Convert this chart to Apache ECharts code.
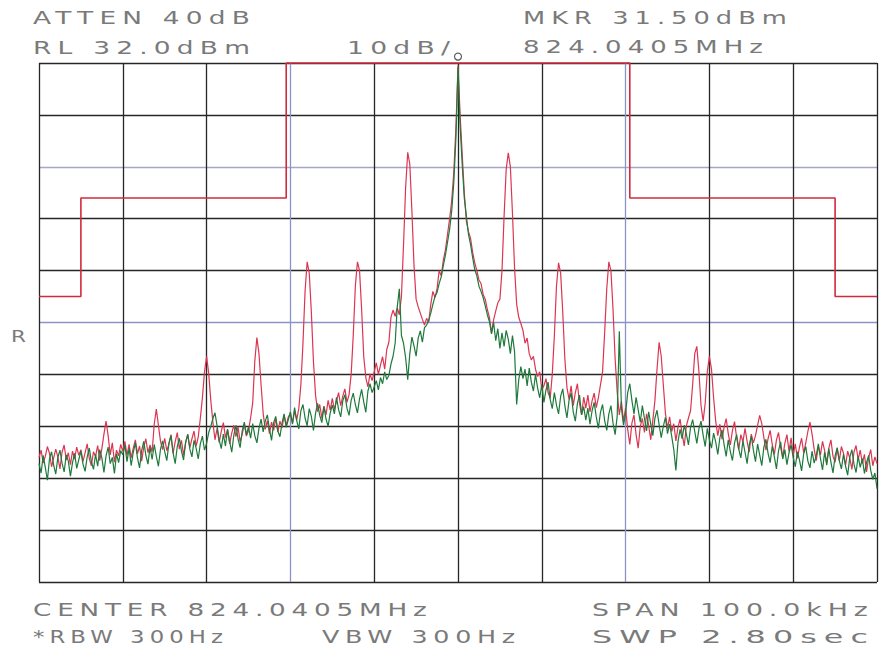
<!DOCTYPE html>
<html>
<head>
<meta charset="utf-8">
<script src="https://cdn.jsdelivr.net/npm/echarts@6/dist/echarts.min.js"></script>
<style>
  html, body { margin: 0; padding: 0; background: #ffffff; }
  #chart { width: 881px; height: 652px; }
  #chart text { letter-spacing: 4px; }
</style>
</head>
<body>
<div id="chart"></div>
<script>
// ---- Instrument settings ----
const REF_LEVEL_DBM = 32.0;     // RL 32.0dBm
const DB_PER_DIV = 10;          // 10dB/
const SPAN_KHZ = 100;           // SPAN 100.0kHz
const TRACE_POINTS = 401;

// ---- Texts ----
const headerTexts = ["ATTEN 40dB", "RL 32.0dBm", "10dB/", "MKR 31.50dBm", "824.0405MHz"];
const footerTexts = ["CENTER 824.0405MHz", "SPAN 100.0kHz", "*RBW 300Hz", "VBW 300Hz", "SWP 2.80sec"];
const sideText = "R";

// ---- Marker ----
const markerFreqKHz = 0;
const markerLevelDbm = 31.5;

// ---- Limit mask (dBm) ----
const maskFreqKHz = [-50, -45, -45, -20.5, -20.5, 20.5, 20.5, 45, 45, 50];
const maskLevelDbm = [-13, -13, 6, 6, 32, 32, 6, 6, -13, -13];

// ---- Trace A (red), dBm, 401 points across the span ----
const traceRed = [
  -44.0, -42.6, -45.1, -43.8, -41.9, -43.2, -45.8, -44.1, -42.4, -43.9, -46.2, -43.0, -41.6, -44.5, -43.1, -45.4, -42.8, -44.3, -42.0, -43.6,
  -42.5, -44.8, -43.1, -41.4, -44.2, -45.6, -42.9, -43.8, -41.7, -44.6, -42.3, -39.5, -37.0, -39.8, -43.5, -41.2, -44.9, -42.6, -43.7, -41.5,
  -42.8, -40.9, -43.6, -41.5, -44.1, -42.2, -40.6, -43.3, -41.8, -44.7, -42.0, -40.4, -43.1, -41.6, -42.9, -37.6, -34.7, -37.8, -40.9, -42.5,
  -40.3, -42.7, -41.5, -39.6, -43.2, -41.0, -39.2, -42.4, -40.7, -43.6, -41.2, -39.5, -42.1, -40.4, -38.9, -41.8, -40.1, -36.5, -32.5, -27.5,
  -24.5, -27.8, -33.0, -37.2, -40.6, -38.4, -41.1, -39.0, -37.3, -40.2, -38.6, -41.4, -39.3, -37.8, -40.0, -38.1, -41.0, -39.5, -37.6, -39.9,
  -38.8, -36.4, -33.5, -25.5, -20.9, -24.0, -30.0, -35.5, -38.6, -36.9, -39.4, -37.2, -38.8, -36.5, -39.1, -37.0, -38.3, -35.9, -37.8, -36.2,
  -35.6, -37.4, -35.0, -36.8, -34.6, -30.0, -22.0, -12.0, -6.3, -8.5, -16.0, -25.5, -32.0, -35.2, -33.8, -36.4, -34.1, -35.8, -33.0, -34.9,
  -32.6, -34.8, -33.1, -31.5, -34.0, -32.2, -30.8, -33.4, -31.9, -28.0, -20.5, -11.0, -6.3, -8.0, -15.5, -24.5, -28.6, -30.4, -27.9, -29.2,
  -27.5, -25.8, -28.0, -26.2, -24.6, -27.0, -23.2, -21.8, -17.0, -15.6, -16.8, -15.2, -16.5, -13.0, -3.0, 8.0, 14.8, 12.5, 3.5, -7.0,
  -13.5, -15.0, -16.2, -17.4, -18.5, -17.2, -18.0, -14.5, -12.0, -13.2, -11.5, -8.0, -9.0, -6.0, -4.0, -1.0, 2.0, 5.5, 11.0, 19.5,
  31.5,
  22.0, 14.5, 7.0, 1.5, -0.5, -1.8, -4.5, -6.5, -8.0, -9.8, -10.5, -12.6, -13.5, -15.5, -17.0, -20.0, -17.5, -15.8, -14.2, -13.5,
  -8.0, 2.5, 11.5, 14.7, 12.0, 3.0, -7.5, -14.5, -17.0, -18.2, -19.5, -22.0, -21.0, -24.0, -25.2, -24.5, -27.0, -28.4, -27.5, -31.0,
  -30.2, -28.8, -31.5, -32.6, -28.0, -20.5, -11.0, -6.5, -8.5, -16.0, -25.0, -30.5, -32.8, -30.2, -34.0, -31.5, -29.8, -33.6, -35.8, -32.4,
  -34.5, -32.0, -35.2, -33.1, -31.6, -34.4, -32.5, -30.0, -27.5, -20.0, -11.5, -6.3, -8.0, -15.5, -25.0, -31.5, -35.8, -33.2, -37.0, -34.5,
  -38.6, -41.5, -37.4, -35.8, -39.6, -42.2, -38.0, -36.5, -39.2, -35.6, -37.8, -40.6, -36.8, -33.0, -27.0, -21.8, -24.5, -30.0, -35.5, -38.4,
  -36.2, -39.0, -37.5, -40.8, -38.2, -36.6, -39.5, -41.8, -37.9, -36.4, -35.0, -30.0, -24.0, -22.6, -27.5, -34.0, -37.0, -33.5, -27.5, -24.5,
  -27.0, -32.5, -37.0, -39.8, -37.6, -40.5, -38.2, -36.5, -39.4, -41.6, -38.8, -37.1, -40.2, -42.5, -39.6, -41.0, -38.4, -40.9, -43.0, -39.5,
  -41.2, -39.8, -37.8, -35.9, -37.5, -40.2, -42.6, -40.4, -38.8, -41.5, -43.4, -40.6, -39.2, -42.1, -44.0, -41.3, -39.6, -42.8, -40.2, -43.6,
  -41.4, -44.2, -42.0, -40.3, -43.1, -41.2, -39.0, -37.2, -39.5, -42.4, -44.6, -41.8, -43.5, -40.9, -42.7, -45.1, -42.2, -40.6, -43.8, -44.9,
  -42.3, -44.6, -41.9, -43.2, -45.5, -42.8, -44.1, -46.3, -43.0, -41.7, -44.4, -42.6, -45.2, -43.4, -46.8, -44.0, -42.5, -45.6, -43.9, -45.2
];

// ---- Trace B (green), dBm ----
const traceGreen = [
  -45.2, -47.0, -43.6, -45.9, -48.4, -44.3, -42.9, -45.5, -47.2, -44.0, -42.6, -45.1, -46.8, -43.5, -44.7, -47.6, -45.0, -43.2, -46.1, -44.4,
  -42.8, -45.3, -46.7, -43.9, -42.2, -44.8, -46.3, -43.4, -45.7, -42.5, -44.1, -46.9, -43.7, -42.0, -45.2, -44.0, -47.1, -43.3, -45.0, -42.7,
  -43.5, -41.6, -44.8, -42.2, -45.6, -43.0, -41.2, -44.1, -46.0, -42.7, -40.9, -43.6, -45.3, -42.0, -44.4, -41.5, -43.8, -45.7, -42.4, -40.8,
  -42.9, -44.6, -41.3, -39.8, -43.1, -45.2, -41.9, -40.3, -42.8, -44.5, -41.0, -39.6, -42.4, -43.9, -40.7, -42.2, -44.3, -41.4, -39.9, -42.6,
  -41.3, -39.2, -38.0, -36.5, -35.4, -37.9, -40.6, -42.3, -39.5, -41.8, -38.6, -40.9, -43.0, -39.7, -37.8, -40.4, -42.1, -38.9, -37.2, -39.6,
  -38.1, -40.3, -37.5, -39.8, -41.2, -38.4, -36.6, -39.1, -37.0, -35.8, -38.6, -40.7, -37.3, -36.1, -38.9, -40.0, -37.4, -35.6, -38.2, -36.7,
  -35.2, -37.6, -34.4, -36.9, -38.5, -35.0, -33.8, -36.4, -37.9, -34.6, -36.1, -38.8, -35.5, -33.6, -35.9, -37.3, -34.2, -36.6, -38.0, -35.4,
  -33.9, -35.6, -32.4, -34.8, -36.2, -33.1, -31.9, -34.5, -35.9, -33.0, -31.6, -33.8, -35.4, -32.7, -30.9, -33.3, -35.3, -31.2, -29.8, -31.5,
  -30.4, -29.2, -31.0, -28.6, -29.8, -27.5, -29.0, -28.2, -26.0, -24.5, -22.0, -15.0, -11.5, -20.5, -22.0, -24.8, -29.0, -24.0, -20.8, -22.5,
  -24.5, -21.0, -19.6, -21.8, -19.0, -18.5, -17.6, -16.2, -14.5, -13.0, -12.2, -10.5, -9.2, -7.0, -5.0, -2.5, 0.0, 3.5, 9.0, 17.5,
  31.2,
  20.0, 12.5, 6.0, 2.5, -1.0, -3.0, -5.5, -7.8, -9.0, -11.0, -12.0, -13.2, -14.8, -16.5, -17.8, -20.2, -18.0, -21.5, -19.2, -23.0,
  -20.0, -22.6, -19.5, -21.2, -24.0, -20.5, -23.6, -33.8, -29.0, -26.5, -28.8, -27.0, -30.2, -26.8, -29.5, -31.2, -28.0, -30.6, -32.5, -30.0,
  -33.4, -31.0, -29.5, -32.8, -34.6, -31.5, -33.9, -35.6, -32.2, -30.8, -34.0, -36.4, -33.0, -31.6, -35.2, -37.0, -33.6, -32.0, -35.8, -34.2,
  -36.8, -34.5, -37.6, -35.0, -33.4, -36.2, -38.4, -35.3, -33.8, -36.9, -38.8, -35.6, -34.0, -37.4, -39.6, -36.0, -19.7, -34.5, -37.8, -35.5,
  -31.5, -29.8, -33.0, -35.6, -32.4, -34.8, -37.2, -34.0, -36.5, -38.9, -35.2, -37.6, -39.8, -36.4, -34.9, -37.7, -40.2, -38.0, -36.3, -39.4,
  -37.6, -39.9, -42.5, -46.5, -41.0, -38.6, -40.4, -37.8, -39.5, -41.6, -38.2, -36.7, -39.0, -41.3, -38.5, -37.0, -39.7, -41.9, -38.4, -40.6,
  -42.2, -39.3, -41.0, -43.4, -40.2, -38.7, -41.5, -43.8, -40.6, -42.9, -44.6, -41.2, -39.6, -42.4, -44.1, -40.8, -43.0, -45.2, -41.7, -39.9,
  -42.6, -44.8, -41.4, -43.5, -45.6, -42.0, -40.5, -43.2, -45.0, -41.8, -43.9, -46.2, -42.7, -41.0, -44.3, -42.5, -45.4, -43.1, -41.6, -44.0,
  -45.8, -42.9, -44.5, -46.6, -43.3, -41.9, -44.7, -46.0, -42.8, -45.1, -43.6, -41.4, -44.2, -46.4, -43.0, -45.5, -42.3, -44.9, -47.0, -43.7,
  -42.1, -44.6, -46.2, -43.4, -45.7, -47.4, -44.0, -42.5, -45.3, -46.9, -43.8, -45.9, -44.2, -47.1, -45.0, -43.6, -46.5, -48.2, -47.0, -50.0
];

// ---- Build series data (x: offset from center in kHz, y: dB relative to RL) ----
const sweepFreqKHz = [];
for (let i = 0; i < TRACE_POINTS; i++) sweepFreqKHz.push(-SPAN_KHZ / 2 + i * SPAN_KHZ / (TRACE_POINTS - 1));
const rel = v => v - REF_LEVEL_DBM;
const redData = traceRed.map((v, i) => [sweepFreqKHz[i], rel(v)]);
const greenData = traceGreen.map((v, i) => [sweepFreqKHz[i], rel(v)]);
const maskData = maskFreqKHz.map((f, i) => [f, rel(maskLevelDbm[i])]);

// ---- Text layout ----
const LETTER_SPACING = 4;
const FONT_FAMILY = '"DejaVu Sans"';
const measureCtx = document.createElement('canvas').getContext('2d');
function makeLabel(text, left, right, cy, px) {
  measureCtx.font = px + 'px ' + FONT_FAMILY;
  const w = measureCtx.measureText(text).width + LETTER_SPACING * (text.length - 1);
  const sx = (right - left) / w;
  return {
    type: 'text', x: left, y: cy, scaleX: sx, scaleY: 1, silent: true,
    style: {
      text: text, fill: '#7a7a7a', font: px + 'px ' + FONT_FAMILY,
      textAlign: 'left', textVerticalAlign: 'middle', align: 'left', verticalAlign: 'middle'
    }
  };
}
const labels = [
  makeLabel(headerTexts[0], 33, 250, 18, 17),
  makeLabel(headerTexts[1], 33, 250, 47.5, 17),
  makeLabel(headerTexts[2], 347, 450, 47.5, 17),
  makeLabel(headerTexts[3], 523, 787, 18, 17),
  makeLabel(headerTexts[4], 523, 763, 47.5, 17),
  makeLabel(footerTexts[0], 33, 427, 610, 18),
  makeLabel(footerTexts[1], 592, 868, 610, 18),
  makeLabel(footerTexts[2], 33, 223, 636.5, 18),
  makeLabel(footerTexts[3], 322, 515, 636.5, 18),
  makeLabel(footerTexts[4], 592, 868, 636.5, 18),
  makeLabel(sideText, 11, 26, 336.5, 16)
];

const DARK = '#262626', BLUE = '#8d92c6', GRAYBLUE = '#a4a8c4';
const chart = echarts.init(document.getElementById('chart'), null, { renderer: 'svg' });
chart.setOption({
  animation: false,
  backgroundColor: '#ffffff',
  grid: { left: 39, right: 4, top: 63, bottom: 70, containLabel: false },
  xAxis: {
    type: 'value', min: -SPAN_KHZ / 2, max: SPAN_KHZ / 2, interval: SPAN_KHZ / 10,
    axisLine: { show: false }, axisTick: { show: false }, axisLabel: { show: false },
    splitLine: { show: true, showMinLine: true, showMaxLine: true,
      lineStyle: { width: 1.3, color: [DARK, DARK, DARK, BLUE, DARK, DARK, DARK, BLUE, DARK, DARK, DARK] } }
  },
  yAxis: {
    type: 'value', min: -10 * DB_PER_DIV, max: 0, interval: DB_PER_DIV,
    axisLine: { show: false }, axisTick: { show: false }, axisLabel: { show: false },
    splitLine: { show: true, showMinLine: true, showMaxLine: true,
      lineStyle: { width: 1.3, color: [DARK, DARK, DARK, DARK, DARK, BLUE, DARK, DARK, GRAYBLUE, DARK, DARK] } }
  },
  series: [
    { name: 'Mask', type: 'line', data: maskData, showSymbol: false, clip: false,
      lineStyle: { color: '#d22a3c', width: 1.6 }, z: 2 },
    { name: 'Trace A', type: 'line', data: redData, showSymbol: false, sampling: 'none',
      lineStyle: { color: '#dc3552', width: 1.2 }, z: 3 },
    { name: 'Trace B', type: 'line', data: greenData, showSymbol: false, sampling: 'none',
      lineStyle: { color: '#1d7a3a', width: 1.2 }, z: 4 },
    { name: 'Marker', type: 'scatter', data: [[markerFreqKHz, rel(markerLevelDbm)]], clip: false,
      symbol: 'circle', symbolSize: 7, symbolOffset: [0, -9],
      itemStyle: { color: '#ffffff', borderColor: '#333333', borderWidth: 1.2 }, z: 6 }
  ],
  graphic: labels
});
</script>
</body>
</html>
